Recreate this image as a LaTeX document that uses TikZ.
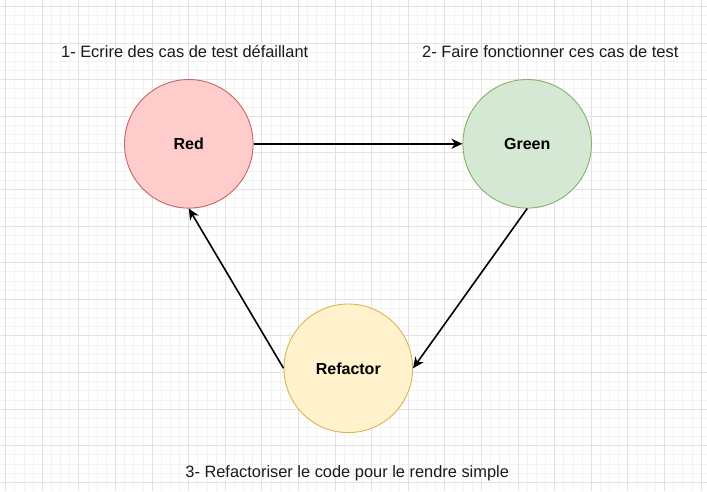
\documentclass[tikz,border=0pt]{standalone}
\usepackage{fontspec}
\setmainfont{Liberation Sans}
\usetikzlibrary{arrows.meta}
\definecolor{redfill}{HTML}{FFCCCC}
\definecolor{redline}{HTML}{C86464}
\definecolor{greenfill}{HTML}{D5E8D4}
\definecolor{greenline}{HTML}{82B366}
\definecolor{yellowfill}{HTML}{FFF2CC}
\definecolor{yellowline}{HTML}{D6B656}
\definecolor{gridminor}{HTML}{F3F3F3}
\definecolor{gridmajor}{HTML}{E2E2E2}
\definecolor{labeltext}{HTML}{1A1A1A}
\tikzset{
  state/.style={circle, minimum size=128.6pt, inner sep=0pt, line width=0.9pt,
    font=\fontsize{16}{19}\selectfont\bfseries, text=black},
  caption/.style={font=\fontsize{16.4}{19}\selectfont, text=labeltext, inner sep=0pt},
  flow/.style={line width=1.6pt, draw=black, -{Stealth[length=11pt,width=10pt,inset=3.5pt]}},
  minorgrid/.style={draw=gridminor, line width=0.9pt},
  majorgrid/.style={draw=gridmajor, line width=0.9pt}
}
\begin{document}
\begin{tikzpicture}[x=1pt,y=-1pt]
\fill[white] (0,0) rectangle (707,491);
\useasboundingbox (0,0) rectangle (707,491);
% grid
\foreach \i in {0,...,76} \draw[minorgrid] ({5.7+9.15*\i},0) -- ({5.7+9.15*\i},491);
\foreach \j in {0,...,52} \draw[minorgrid] (0,{6.5+9.15*\j}) -- (707,{6.5+9.15*\j});
\foreach \i in {0,...,19} \draw[majorgrid] ({5.7+36.6*\i},0) -- ({5.7+36.6*\i},491);
\foreach \j in {0,...,13} \draw[majorgrid] (0,{6.5+36.6*\j}) -- (707,{6.5+36.6*\j});
% states
\node[state, fill=redfill, draw=redline] (red) at (188.8,143.8) {Red};
\node[state, fill=greenfill, draw=greenline] (green) at (527.2,143.8) {Green};
\node[state, fill=yellowfill, draw=yellowline] (refactor) at (348.3,368.3) {Refactor};
% captions
\node[caption] (c1) at (184.7,52) {1- Ecrire des cas de test défaillant};
\node[caption] (c2) at (550.3,52) {2- Faire fonctionner ces cas de test};
\node[caption] (c3) at (347.2,473) {3- Refactoriser le code pour le rendre simple};
% connectors
\draw[flow] (red.east) -- (green.west);
\draw[flow] (green.south) -- (refactor.east);
\draw[flow] (refactor.west) -- (red.south);
\end{tikzpicture}
\end{document}
